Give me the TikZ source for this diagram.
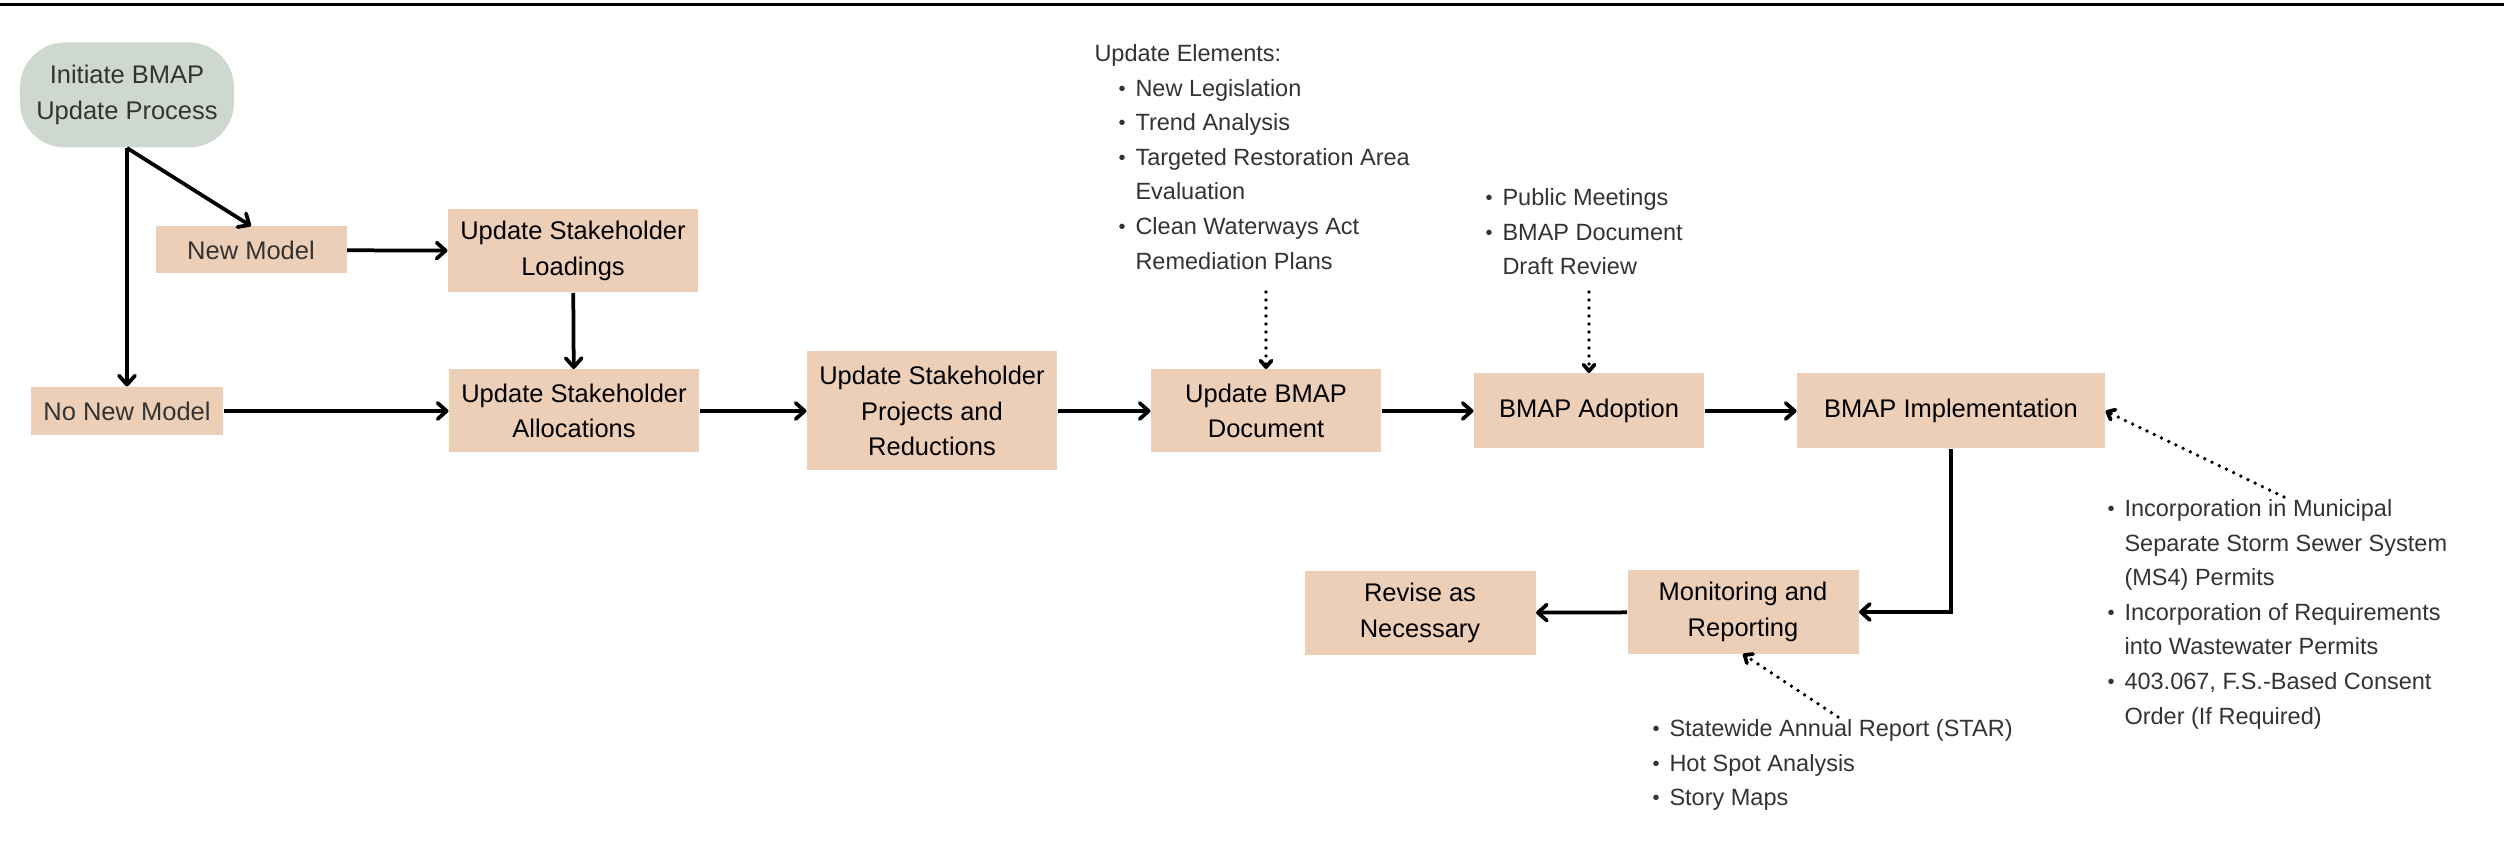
\documentclass[tikz,border=0pt]{standalone}
\usepackage{fontspec}
\setmainfont{Liberation Sans}
\usepackage{xcolor}
\definecolor{ColBox}{RGB}{237,207,184}
\definecolor{ColStart}{RGB}{207,216,207}
\definecolor{ColText}{RGB}{51,51,51}
\usepackage{tikz}
\usetikzlibrary{arrows.meta}
\tikzstyle{Box}=[rectangle,fill=ColBox,inner sep=0pt,align=center,
font=\fontsize{10.2}{14.3}\selectfont]
\tikzstyle{Start}=[Box,fill=ColStart,rounded corners=18pt,text=ColText]
\tikzstyle{Edge}=[draw=black,line width=1.5pt,
-{Straight Barb[length=3.6pt,width=6.4pt,round]}]
\tikzstyle{EdgeDot}=[draw=black,line width=1.5pt,line cap=round,
dash pattern=on 0pt off 3.2pt,
-{Straight Barb[length=2.6pt,width=4.4pt,round]}]
\tikzstyle{List}=[anchor=north west,inner sep=0pt,align=left,text=ColText,
font=\fontsize{9.4}{13.84}\selectfont]
\newcommand{\Bul}{\hspace*{9.6pt}\makebox[6.8pt][l]{\raisebox{0.4pt}{\scalebox{0.85}{\textbullet}}}}
\newcommand{\Ind}{\hspace*{16.4pt}}

\begin{document}
\begin{tikzpicture}[x=0.4pt,y=-0.4pt]
            \useasboundingbox(0,0)rectangle(2504,844);
            \draw[line width=1.3pt](0,4.5)--(2504,4.5);
            %
            \node[Start,minimum width=85.6pt,minimum height=42pt](init)at(127,95)
                {Initiate BMAP\\Update Process};
            \node[Box,text=ColText,minimum width=76.4pt,minimum height=18.8pt](newm)at(251,250)
                {New Model};
            \node[Box,text=ColText,minimum width=76.8pt,minimum height=19.2pt](nonew)at(127,411)
                {No New Model};
            \node[Box,minimum width=100pt,minimum height=33.2pt](load)at(573,251)
                {Update Stakeholder\\Loadings};
            \node[Box,minimum width=100pt,minimum height=33.2pt](alloc)at(574,411)
                {Update Stakeholder\\Allocations};
            \node[Box,minimum width=100pt,minimum height=47.6pt](proj)at(932,411)
                {Update Stakeholder\\Projects and\\Reductions};
            \node[Box,minimum width=92pt,minimum height=33.2pt](doc)at(1266,411)
                {Update BMAP\\Document};
            \node[Box,minimum width=92pt,minimum height=30pt](adopt)at(1589,411)
                {BMAP Adoption};
            \node[Box,minimum width=123.2pt,minimum height=30pt](impl)at(1951,411)
                {BMAP Implementation};
            \node[Box,minimum width=92.4pt,minimum height=33.2pt](mon)at(1743,612)
                {Monitoring and\\Reporting};
            \node[Box,minimum width=92.4pt,minimum height=33.2pt](rev)at(1420,613)
                {Revise as\\Necessary};
            %
            \node[List](elem)at(1094,44)
                {Update Elements:\\
                \Bul New Legislation\\
                \Bul Trend Analysis\\
                \Bul Targeted Restoration Area\\
                \Ind Evaluation\\
                \Bul Clean Waterways Act\\
                \Ind Remediation Plans};
            \node[List,xshift=-9.6pt](meet)at(1485,188)
                {\Bul Public Meetings\\
                \Bul BMAP Document\\
                \Ind Draft Review};
            \node[List,xshift=-9.6pt](perm)at(2107,499)
                {\Bul Incorporation in Municipal\\
                \Ind Separate Storm Sewer System\\
                \Ind (MS4) Permits\\
                \Bul Incorporation of Requirements\\
                \Ind into Wastewater Permits\\
                \Bul 403.067, F.S.-Based Consent\\
                \Ind Order (If Required)};
            \node[List,xshift=-9.6pt](star)at(1652,719)
                {\Bul Statewide Annual Report (STAR)\\
                \Bul Hot Spot Analysis\\
                \Bul Story Maps};
            \coordinate(elemEnd)at(1266,292);
            \coordinate(meetEnd)at(1589,292);
            \coordinate(permEnd)at(2284,497);
            \coordinate(starEnd)at(1838,717);
            %
            \draw[Edge](init.south)--(newm.north);
            \draw[Edge](init.south)--(nonew.north);
            \draw[Edge](newm)--(load);
            \draw[Edge](load)--(alloc);
            \draw[Edge](nonew)--(alloc);
            \draw[Edge](alloc)--(proj);
            \draw[Edge](proj)--(doc);
            \draw[Edge](doc)--(adopt);
            \draw[Edge](adopt)--(impl);
            \draw[Edge](impl.south)|-(mon.east);
            \draw[Edge](mon)--(rev);
            %
            \draw[EdgeDot](elemEnd)--(doc.north);
            \draw[EdgeDot](meetEnd)--(adopt.north);
            \draw[EdgeDot](permEnd)--(impl.east);
            \draw[EdgeDot](starEnd)--(mon.south);
        \end{tikzpicture}
\end{document}
